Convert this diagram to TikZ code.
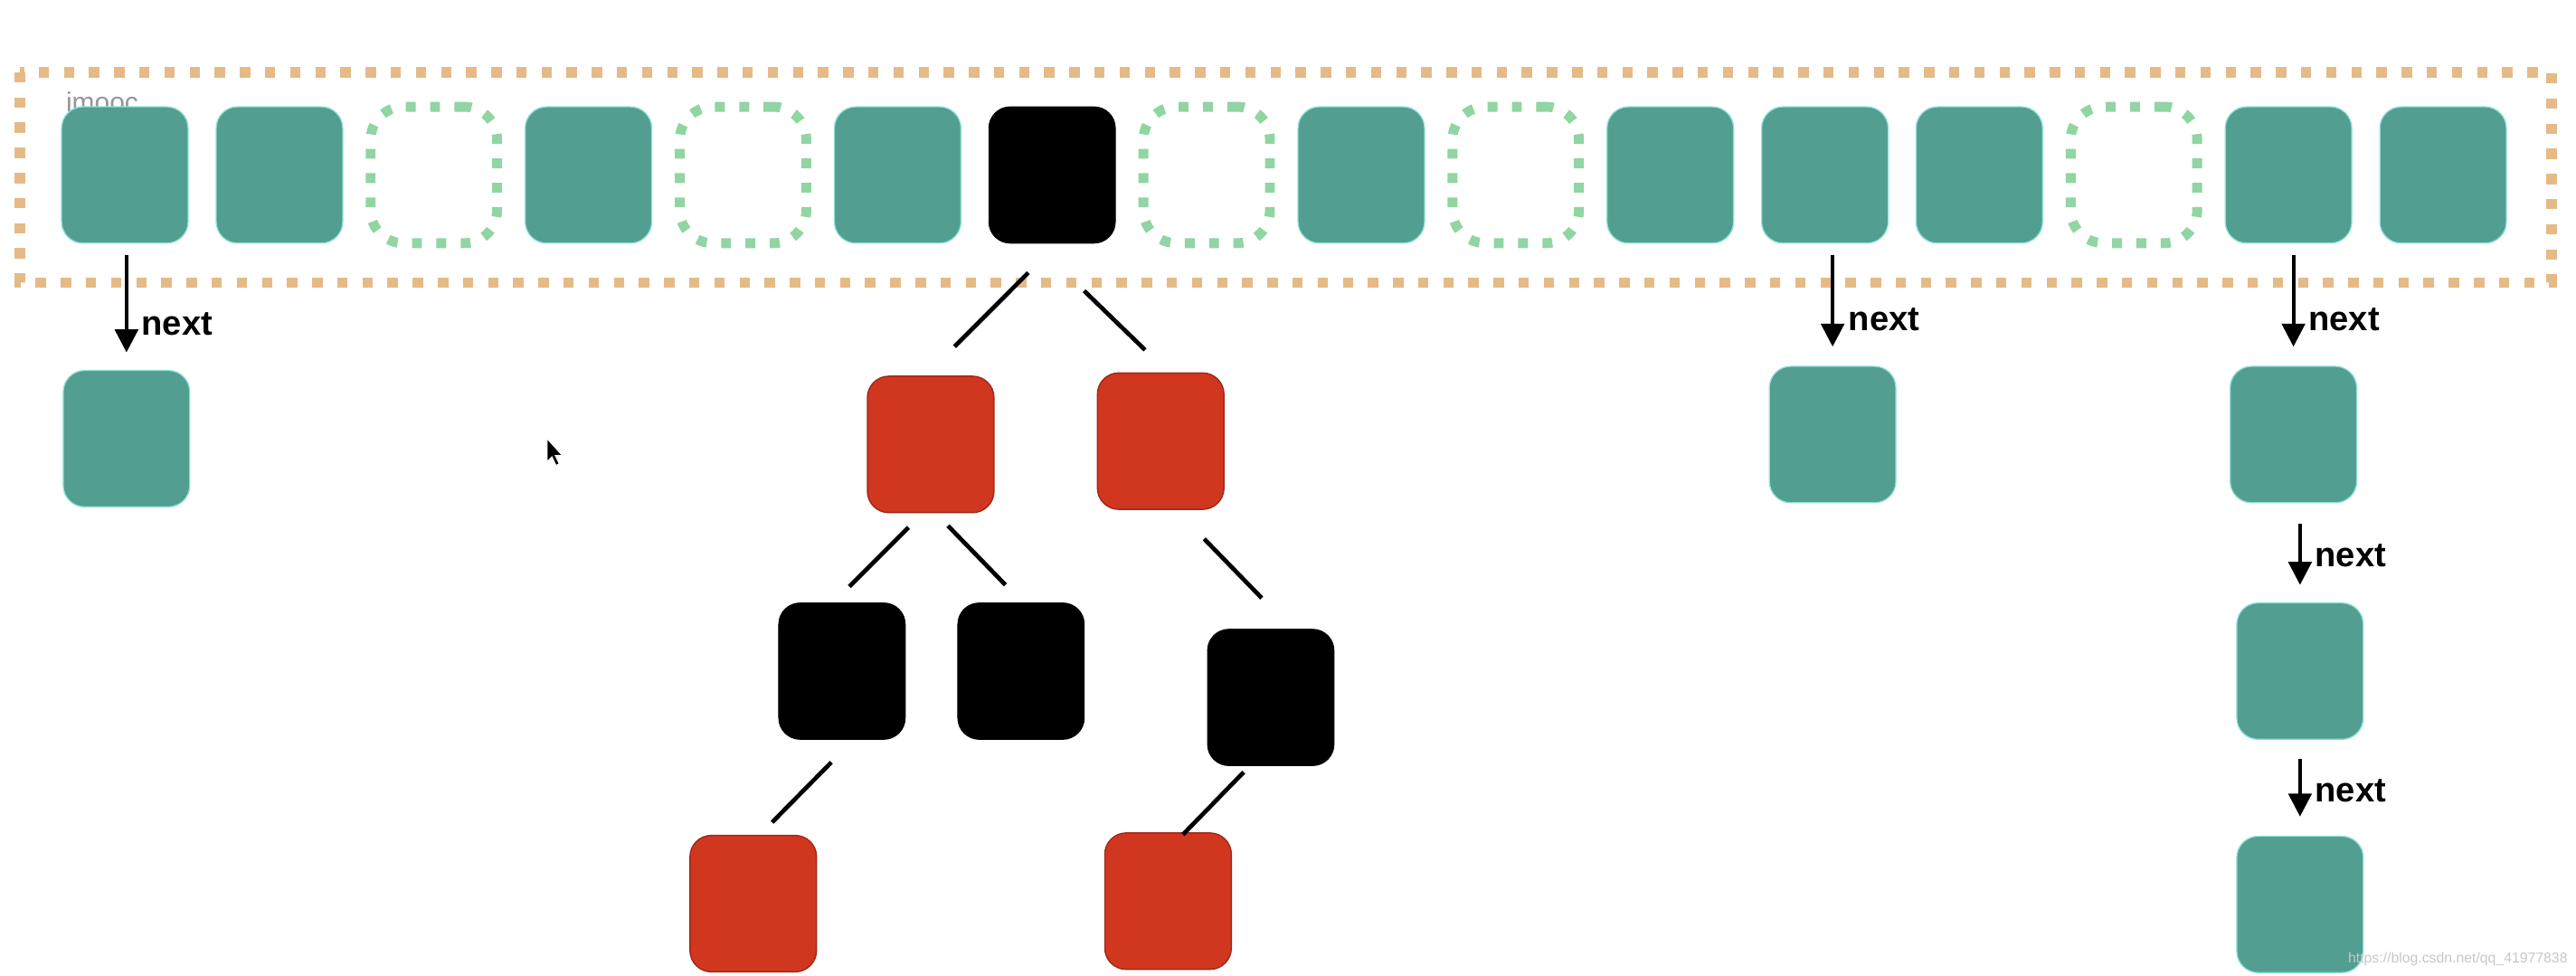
\documentclass[tikz,border=0pt]{standalone}
\usepackage{fontspec}
\setmainfont{Liberation Sans}
\usetikzlibrary{arrows.meta,calc}
\definecolor{teal1}{RGB}{82,158,145}
\definecolor{tealedge}{RGB}{140,225,215}
\definecolor{redn}{RGB}{209,55,31}
\definecolor{rededge}{RGB}{160,40,25}
\definecolor{greendash}{RGB}{144,213,162}
\definecolor{orangedash}{RGB}{230,186,134}
\definecolor{wmgray}{RGB}{200,200,200}
\definecolor{imoocgray}{RGB}{150,150,150}
\begin{document}
\begin{tikzpicture}[x=1pt,y=-1pt,
 cell/.style={rounded corners=13pt, minimum width=77pt, minimum height=83pt, inner sep=0pt, outer sep=0pt},
 tealcell/.style={cell, fill=teal1, draw=tealedge, line width=0.7pt},
 blackcell/.style={cell, fill=black, draw=black, line width=0.5pt},
 redcell/.style={cell, fill=redn, draw=rededge, line width=0.8pt},
 emptycell/.style={cell, rounded corners=20pt, draw=greendash, line width=6pt, dash pattern=on 6pt off 8.8pt},
 nextarrow/.style={draw=black, line width=2.2pt, -{Triangle[width=14pt,length=14pt]}},
 treeline/.style={draw=black, line width=2.6pt},
 nextlbl/.style={font=\fontsize{21}{24}\selectfont\bfseries, anchor=base west, inner sep=0pt},
]
\useasboundingbox (0,0) rectangle (1568,594);
\fill[white] (0,0) rectangle (1568,594);

% table border
\draw[draw=orangedash, line width=6.3pt, dash pattern=on 6.3pt off 9pt] (12,44) rectangle (1553,172);

% watermark label
\node[font=\fontsize{16.5}{18}\selectfont, text=imoocgray, anchor=base west, inner sep=0pt] (imooc) at (40,68) {imooc};

% top row (hash table buckets)
\node[tealcell]  (T1)  at (76,106.5) {};
\node[tealcell]  (T2)  at (170.1,106.5) {};
\node[emptycell] (T3)  at (264.1,106.5) {};
\node[tealcell]  (T4)  at (358.2,106.5) {};
\node[emptycell] (T5)  at (452.3,106.5) {};
\node[tealcell]  (T6)  at (546.4,106.5) {};
\node[blackcell] (T7)  at (640.4,106.5) {};
\node[emptycell] (T8)  at (734.5,106.5) {};
\node[tealcell]  (T9)  at (828.6,106.5) {};
\node[emptycell] (T10) at (922.6,106.5) {};
\node[tealcell]  (T11) at (1016.7,106.5) {};
\node[tealcell]  (T12) at (1110.8,106.5) {};
\node[tealcell]  (T13) at (1204.8,106.5) {};
\node[emptycell] (T14) at (1298.9,106.5) {};
\node[tealcell]  (T15) at (1393,106.5) {};
\node[tealcell]  (T16) at (1487.1,106.5) {};

% linked list nodes
\node[tealcell] (L1)  at (77,267) {};
\node[tealcell] (L12) at (1115.5,264.5) {};
\node[tealcell] (L15) at (1396,264.5) {};
\node[tealcell] (M15) at (1400,408.5) {};
\node[tealcell] (N15) at (1400,550.5) {};

% red-black tree nodes
\node[redcell]   (R1) at (566.5,270.5) {};
\node[redcell]   (R2) at (706.5,268.5) {};
\node[blackcell] (B1) at (512.5,408.5) {};
\node[blackcell] (B2) at (621.5,408.5) {};
\node[blackcell] (B3) at (773.5,424.5) {};
\node[redcell]   (R3) at (458.5,550) {};
\node[redcell]   (R4) at (711,548.5) {};

% next arrows
\draw[nextarrow] ([yshift=-7pt]L1.north |- T1.south) -- ([yshift=11pt]L1.north);
\draw[nextarrow] ([yshift=-7pt]L12.north |- T12.south) -- ([yshift=12pt]L12.north);
\draw[nextarrow] ([yshift=-7pt]L15.north |- T15.south) -- ([yshift=12pt]L15.north);
\draw[nextarrow] ([yshift=-13pt]M15.north |- L15.south) -- ([yshift=11pt]M15.north);
\draw[nextarrow] ([yshift=-12pt]M15.south) -- ([yshift=12pt]N15.north);

\node[nextlbl] (n1) at (86,204) {next};
\node[nextlbl] (n2) at (1125,201) {next};
\node[nextlbl] (n3) at (1405,201) {next};
\node[nextlbl] (n4) at (1409,345) {next};
\node[nextlbl] (n5) at (1409,488) {next};

% tree edges
\draw[treeline] ($(T7.south)+(-14.5,18)$) -- ($(R1.north)+(14.5,-18)$);
\draw[treeline] ($(T7.south)+(19.5,29)$) -- ($(R2.north)+(-9.5,-14)$);
\draw[treeline] ($(R1.south)+(-13.5,9)$) -- ($(B1.north)+(4.5,-10)$);
\draw[treeline] ($(R1.south)+(10.5,8)$) -- ($(B2.north)+(-9.5,-11)$);
\draw[treeline] ($(R2.south)+(26.5,18)$) -- ($(B3.north)+(-5.5,-19)$);
\draw[treeline] ($(B1.south)+(-6.5,14)$) -- ($(R3.north)+(11.5,-8)$);
\draw[treeline] ($(B3.south)+(-16.5,4)$) -- ($(R4.north)+(9,1)$);

% mouse pointer
\filldraw[fill=black, draw=white, line width=0.5pt] (333,267) -- ++(0,14) -- ++(3,-3) -- ++(2.4,5.2) -- ++(2,-0.9) -- ++(-2.4,-5) -- ++(4.3,0) -- cycle;

% source watermark
\node[font=\fontsize{8.7}{10}\selectfont, text=wmgray, anchor=base east, inner sep=0pt] (wm) at (1563,586) {https://blog.csdn.net/qq\_41977838};
\end{tikzpicture}
\end{document}
